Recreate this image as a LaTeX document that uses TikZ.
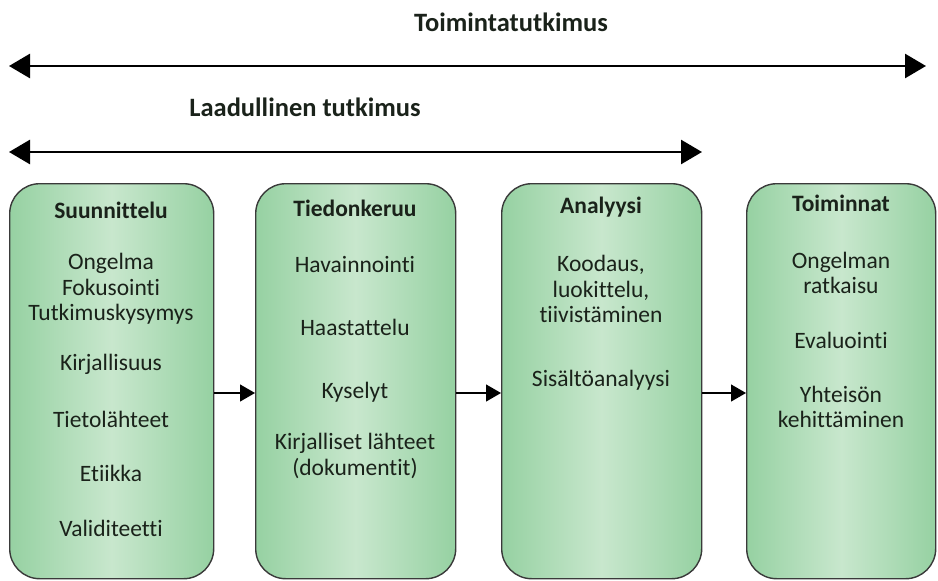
\documentclass[tikz,border=0pt]{standalone}
\usepackage{fontspec}
\setmainfont{Carlito}[Ligatures=NoCommon]
\usetikzlibrary{arrows.meta}
\definecolor{edgeg}{HTML}{96D1A2}
\definecolor{midg}{HTML}{C8E7CD}
\definecolor{boxline}{HTML}{3A3A3A}
\definecolor{txt}{HTML}{1A221A}
\tikzset{
  x=1pt,y=-1pt,
  phase/.style={draw=boxline,line width=1.4pt,rounded corners=30pt,
    left color=edgeg,right color=edgeg,middle color=midg,shading angle=90,
    minimum height=395pt,inner sep=0pt},
  ttl/.style={font=\fontsize{23.5}{26}\selectfont\bfseries,text=txt,inner sep=0pt},
  big/.style={font=\fontsize{26.5}{28}\selectfont\bfseries,text=txt,inner sep=0pt},
  itm/.style={font=\fontsize{23.5}{25.5}\selectfont,text=txt,align=center,inner sep=0pt},
  span/.style={line width=2.8pt,{Triangle[length=21pt,width=24pt]}-{Triangle[length=21pt,width=24pt]}},
  flow/.style={line width=1.2pt,-{Triangle[length=15pt,width=17pt]}}
}
\begin{document}
\begin{tikzpicture}
\useasboundingbox (0,0) rectangle (938,581);
% top spans
\node[big] (t1) at (511,22) {Toimintatutkimus};
\coordinate (s1l) at (9,66);
\coordinate (s1r) at (926,66);
\draw[span] (s1l) -- (s1r);
\node[big] (t2) at (305,107) {Laadullinen tutkimus};
\coordinate (s2l) at (9,152);
\coordinate (s2r) at (702,152);
\draw[span] (s2l) -- (s2r);
% boxes
\node[phase,minimum width=204pt,anchor=north west] (b1) at (9,183) {};
\node[phase,minimum width=200pt,anchor=north west] (b2) at (255,183) {};
\node[phase,minimum width=200pt,anchor=north west] (b3) at (501,183) {};
\node[phase,minimum width=189pt,anchor=north west] (b4) at (746,183) {};
% box 1
\node[ttl] (h1) at (111,210) {Suunnittelu};
\node[itm] (a1) at (111,289) {Ongelma\\Fokusointi\\Tutkimuskysymys};
\node[itm] (a2) at (111,364) {Kirjallisuus};
\node[itm] (a3) at (111,419) {Tietolähteet};
\node[itm] (a4) at (111,473) {Etiikka};
\node[itm] (a5) at (111,528) {Validiteetti};
% box 2
\node[ttl] (h2) at (355,208) {Tiedonkeruu};
\node[itm] (c1) at (355,264) {Havainnointi};
\node[itm] (c2) at (355,327) {Haastattelu};
\node[itm] (c3) at (355,392) {Kyselyt};
\node[itm] (c4) at (355,456) {Kirjalliset lähteet\\(dokumentit)};
% box 3
\node[ttl] (h3) at (601,207) {Analyysi};
\node[itm] (d1) at (601,289) {Koodaus,\\luokittelu,\\tiivistäminen};
\node[itm] (d2) at (601,380) {Sisältöanalyysi};
% box 4
\node[ttl] (h4) at (841,203) {Toiminnat};
\node[itm] (e1) at (841,273) {Ongelman\\ratkaisu};
\node[itm] (e2) at (841,340) {Evaluointi};
\node[itm] (e3) at (841,407) {Yhteisön\\kehittäminen};
% flow arrows
\coordinate (ay) at (0,393);
\draw[flow] (b1.east |- ay) -- (b2.west |- ay);
\draw[flow] (b2.east |- ay) -- (b3.west |- ay);
\draw[flow] (b3.east |- ay) -- (b4.west |- ay);
\end{tikzpicture}
\end{document}
